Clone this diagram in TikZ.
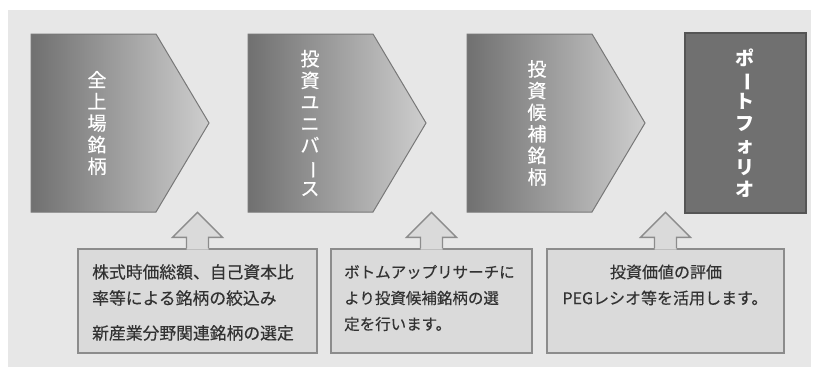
\documentclass[tikz,border=0pt]{standalone}
\usepackage{fontspec}
\usepackage{graphicx}
\newfontfamily\jp{Noto Sans CJK JP}
\newfontfamily\jpm[FakeBold=0.35]{Noto Sans CJK JP}
\usetikzlibrary{calc}
\definecolor{panelbg}{RGB}{231,231,231}
\definecolor{chevL}{RGB}{112,112,112}
\definecolor{chevR}{RGB}{206,206,206}
\definecolor{chevD}{RGB}{120,120,120}
\definecolor{portfill}{RGB}{112,112,112}
\definecolor{portline}{RGB}{85,85,85}
\definecolor{boxfill}{RGB}{218,218,218}
\definecolor{boxline}{RGB}{140,140,140}
\definecolor{boxtext}{RGB}{50,50,50}
\newcommand\vbarjp{\rotatebox[origin=c]{-90}{ー}}
\newcommand\blockarrow[1]{%
  \fill[boxfill] ($(#1.north)+(-11,1.2)$) -- ($(#1.north)+(-11,-11)$) -- ($(#1.north)+(-25,-11)$) -- ($(#1.north)+(0,-36)$) -- ($(#1.north)+(25,-11)$) -- ($(#1.north)+(11,-11)$) -- ($(#1.north)+(11,1.2)$) -- cycle;
  \draw[boxline,line width=1.4pt,line join=miter] ($(#1.north)+(-11,0)$) -- ($(#1.north)+(-11,-11)$) -- ($(#1.north)+(-25,-11)$) -- ($(#1.north)+(0,-36)$) -- ($(#1.north)+(25,-11)$) -- ($(#1.north)+(11,-11)$) -- ($(#1.north)+(11,0)$);
}
\begin{document}
\begin{tikzpicture}[x=1pt,y=-1pt,
  vtext/.style={align=center,text=white,inner sep=0pt,font=\jpm\fontsize{19}{21.6}\selectfont},
  infobox/.style={draw=boxline,fill=boxfill,line width=1.4pt,inner sep=0pt},
  linetext/.style={text=boxtext,inner sep=0pt}]
\useasboundingbox (0,0) rectangle (814,367);
\fill[white] (0,0) rectangle (814,367);
\fill[panelbg] (8,10) rectangle (811,367);
% chevrons
\shadedraw[left color=chevL,right color=chevR,draw=chevD,line width=1pt] (31,34) -- (156,34) -- (209,123) -- (156,212) -- (31,212) -- cycle;
\shadedraw[left color=chevL,right color=chevR,draw=chevD,line width=1pt] (248,34) -- (373,34) -- (426,123) -- (373,212) -- (248,212) -- cycle;
\shadedraw[left color=chevL,right color=chevR,draw=chevD,line width=1pt] (467,34) -- (592,34) -- (645,123) -- (592,212) -- (467,212) -- cycle;
\node[vtext] (c1) at (97,123) {全\\上\\場\\銘\\柄};
\node[vtext] (c2) at (310,123) {投\\資\\ユ\\ニ\\バ\\\vbarjp\\ス};
\node[vtext] (c3) at (537,123) {投\\資\\候\\補\\銘\\柄};
% portfolio box
\node[draw=portline,fill=portfill,line width=1.5pt,minimum width=121pt,minimum height=180pt,inner sep=0pt] (pf) at (745.5,123) {};
\node[vtext,font=\jp\bfseries\fontsize{19}{21.9}\selectfont] (c4) at (745,123) {ポ\\\vbarjp\\ト\\フ\\ォ\\リ\\オ};
% info boxes
\node[infobox,minimum width=239pt,minimum height=104pt] (b1) at (197.5,301) {};
\node[infobox,minimum width=201pt,minimum height=104pt] (b2) at (431.5,301) {};
\node[infobox,minimum width=237pt,minimum height=104pt] (b3) at (665.5,301) {};
\blockarrow{b1}
\blockarrow{b2}
\blockarrow{b3}
% box texts
\node[linetext,anchor=west,font=\jpm\fontsize{16.8}{20}\selectfont] (t11) at (92,272) {株式時価総額、自己資本比};
\node[linetext,anchor=west,font=\jpm\fontsize{16.8}{20}\selectfont] (t12) at (92,298) {率等による銘柄の絞込み};
\node[linetext,anchor=west,font=\jpm\fontsize{16.8}{20}\selectfont] (t13) at (92,333) {新産業分野関連銘柄の選定};
\node[linetext,anchor=west,font=\jpm\fontsize{15.5}{20}\selectfont] (t21) at (344,272) {ボトムアップリサーチに};
\node[linetext,anchor=west,font=\jpm\fontsize{15.5}{20}\selectfont] (t22) at (344,298) {より投資候補銘柄の選};
\node[linetext,anchor=west,font=\jpm\fontsize{15.5}{20}\selectfont] (t23) at (344,324) {定を行います。};
\node[linetext,font=\jpm\fontsize{16}{20}\selectfont] (t31) at (666,272) {投資価値の評価};
\node[linetext,font=\jpm\fontsize{16}{20}\selectfont] (t32) at (665,298) {PEGレシオ等を活用します。};
\end{tikzpicture}
\end{document}
